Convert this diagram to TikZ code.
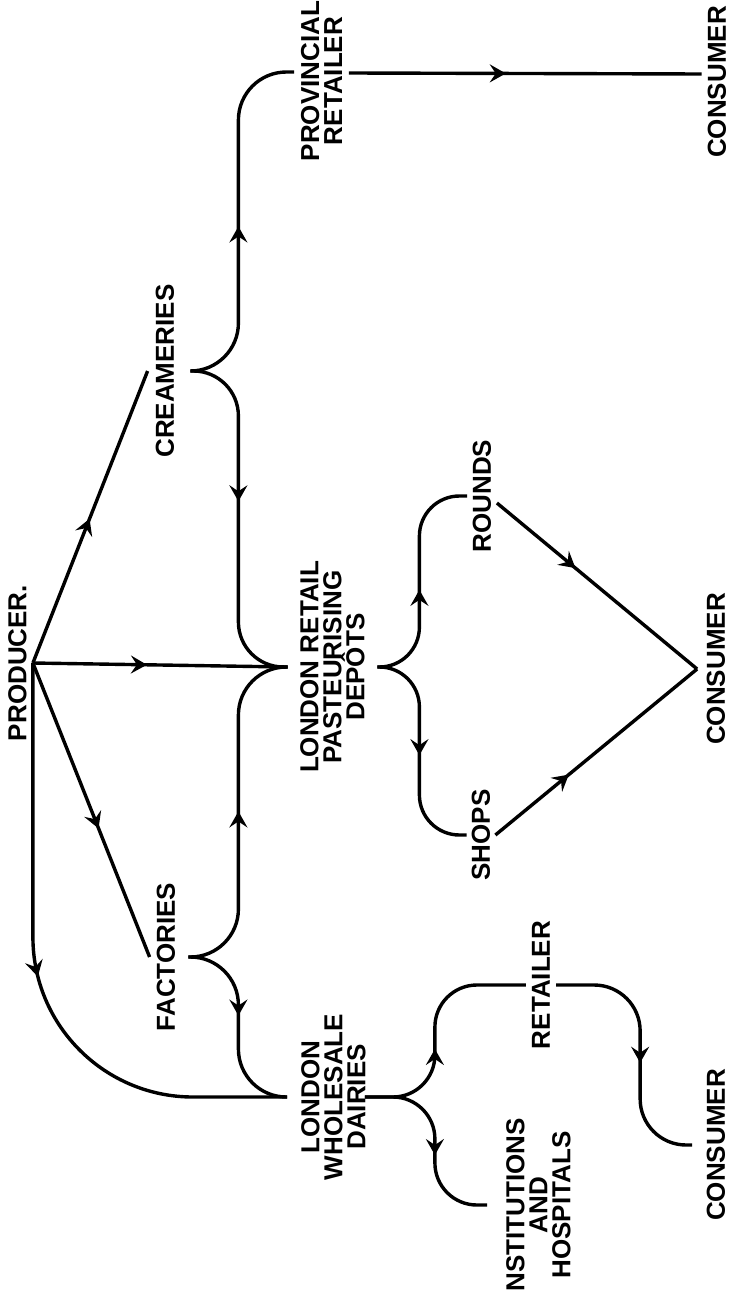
\documentclass[tikz,border=0pt]{standalone}
\usepackage{fontspec}
\setmainfont{Liberation Sans}
\usetikzlibrary{arrows.meta,decorations.markings}

\newcommand{\lblfont}{\fontsize{26}{23}\selectfont\bfseries\lineskiplimit=-30pt}

\begin{document}
\begin{tikzpicture}[
		x=1pt, y=-1pt,
		lbl/.style={
			rotate=90,
			font=\lblfont,
			align=center,
			inner xsep=0pt,
			inner ysep=#1
		},
		lbl/.default=6pt,
		flow/.style={
			line width=3.4pt,
			postaction={decorate},
			decoration={markings,
				mark=at position #1 with {\arrow{Stealth[length=16pt,width=18pt,inset=6pt]}}}
		}
		]
		
		\useasboundingbox (0,0) rectangle (734,1297);
		
		\node[lbl=6pt] (producer) at (17.5,663) {PRODUCER.};
		\node[lbl=8pt] (creameries) at (165,371) {CREAMERIES};
		\node[lbl=7pt] (factories) at (166,957) {FACTORIES};
		\node[lbl=12.5pt] (depots) at (332.5,667) {LONDON RETAIL\\PASTEURISING\\DEPÔTS};
		\node[lbl=14pt] (dairies) at (333.5,1097) {LONDON\\WHOLESALE\\DAIRIES};
		\node[lbl=6.5pt] (provincial) at (321.5,81) {PROVINCIAL\\RETAILER};
		\node[lbl=6pt] (consumer1) at (717,82) {CONSUMER};
		\node[lbl=5.5pt] (rounds) at (482,496) {ROUNDS};
		\node[lbl=5pt] (shops) at (481,835) {SHOPS};
		\node[lbl=9.5pt] (consumer2) at (716,669) {CONSUMER};
		\node[lbl=6pt] (retailer) at (541,985) {RETAILER};
		\node[lbl=14.5pt] (consumer3) at (716,1145) {CONSUMER};
		\node[lbl=19pt] (institutions) at (538.5,1205) {NSTITUTIONS\\AND\\HOSPITALS};
		
		\draw[flow=155pt] (producer.south) -- (creameries.north);
		\draw[flow=114pt] (producer.south) -- (depots.north);
		\draw[flow=178pt] (producer.south) -- (factories.north);
		\draw[flow=314pt, rounded corners=160pt] (producer.south) |- (dairies.north);
		
		\draw[flow=172pt, rounded corners=48pt]
		([xshift=8pt]creameries.south) -- ++(48,0) |- ([yshift=9pt]provincial.north);
		\draw[flow=159pt, rounded corners=45pt]
		([xshift=8pt]creameries.south) -- ++(48,0) |- (depots.north);
		\draw[flow=175pt, rounded corners=48pt]
		([xshift=6pt]factories.south) -- ++(50,0) |- (depots.north);
		\draw[flow=88pt, rounded corners=48pt]
		([xshift=6pt]factories.south) -- ++(50,0) |- (dairies.north);
		
		\draw[flow=157pt] ([yshift=8pt]provincial.south) -- ([yshift=8pt]consumer1.north);
		
		\draw[flow=102pt, rounded corners=40pt]
		(depots.south) -- ++(42,0) |- (rounds.north);
		\draw[flow=113pt, rounded corners=40pt]
		(depots.south) -- ++(42,0) |- (shops.north);
		\draw[flow=102pt] ([yshift=-7pt]rounds.south) -- (consumer2.north);
		\draw[flow=95pt] (shops.south) -- (consumer2.north);
		
		\draw[flow=100pt, rounded corners=42pt]
		([xshift=-15pt]dairies.south) -- ++(70,0) |- (retailer.north);
		\draw[flow=110pt, rounded corners=42pt]
		([xshift=-15pt]dairies.south) -- ++(70,0) |- (institutions.north);
		\draw[flow=142pt, rounded corners=46pt]
		(retailer.south) -- ++(84,0) |- (consumer3.north);
		
	\end{tikzpicture}
\end{document}
